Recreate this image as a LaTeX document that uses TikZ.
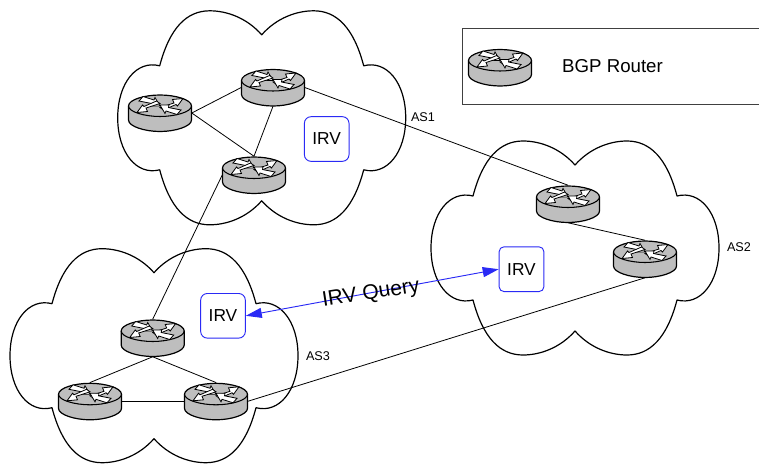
\documentclass[tikz,border=0pt]{standalone}
\usepackage{fontspec}
\setmainfont{Liberation Sans}
\usetikzlibrary{arrows.meta,shapes.geometric}
\definecolor{irvblue}{HTML}{2A2AF5}
\definecolor{routergray}{HTML}{BEBEBE}
\definecolor{legendline}{HTML}{404040}
\tikzset{
  rnode/.style={ellipse,inner sep=0pt,minimum width=47.25pt,minimum height=27.75pt},
  link/.style={black,line width=0.6pt},
  cloudline/.style={black,line width=0.9pt,line join=round},
  irvbox/.style={draw=irvblue,fill=white,line width=0.7pt,rounded corners=#1,minimum width=33.5pt,minimum height=33.5pt,inner sep=0pt,font=\fontsize{13}{15}\selectfont},
  irvbox/.default=5pt,
  aslabel/.style={inner sep=0pt,font=\fontsize{9.5}{11}\selectfont},
  rbody/.style={draw=black,fill=routergray,line width=0.9pt,line join=round},
  rarm/.style={draw=black,fill=white,line width=0.6pt,line join=miter},
  query/.style={{Triangle[length=12pt,width=7.5pt]}-{Triangle[length=12pt,width=7.5pt]},irvblue,line width=0.7pt},
}
\newcommand{\cloudat}[1]{%
  \draw[cloudline,shift={(#1)}] (0,-83)
    .. controls (-15,-100) and (-35,-107) .. (-52,-107)
    .. controls (-75,-107) and (-92,-90) .. (-102,-52)
    .. controls (-125,-58) and (-144,-35) .. (-144,0)
    .. controls (-144,35) and (-125,58) .. (-102,52)
    .. controls (-92,90) and (-75,107) .. (-52,107)
    .. controls (-35,107) and (-15,100) .. (0,83)
    .. controls (15,100) and (35,107) .. (52,107)
    .. controls (75,107) and (92,90) .. (102,52)
    .. controls (125,58) and (144,35) .. (144,0)
    .. controls (144,-35) and (125,-58) .. (102,-52)
    .. controls (92,-90) and (75,-107) .. (52,-107)
    .. controls (35,-107) and (15,-100) .. (0,-83) -- cycle;}
\newcommand{\routerart}[1]{%
  \begin{scope}[shift={(#1)}]
    \path[rbody] (-31.5,-7) -- (-31.5,7)
      .. controls (-31.5,13.5) and (-15,18.5) .. (0,18.5)
      .. controls (15,18.5) and (31.5,13.5) .. (31.5,7) -- (31.5,-7)
      .. controls (31.5,-13.5) and (15,-18) .. (0,-18)
      .. controls (-15,-18) and (-31.5,-13.5) .. cycle;
    \draw[black,line width=0.8pt] (-31.5,-7)
      .. controls (-31.5,-1) and (-15,3.5) .. (0,3.5)
      .. controls (15,3.5) and (31.5,-1) .. (31.5,-7);
    \begin{scope}[shift={(0,-7.5)}]
      \foreach \sx/\sy in {1/1,-1/-1}{
        \begin{scope}[xscale=\sx,yscale=\sy]
          \path[rarm] (0,0.5) -- (-9,0.5) -- (-8.5,-2) -- (-21,-4.5) -- (-17,-9) -- (-6,-5.5) -- (-5,-8) -- cycle;
          \path[rarm] (0,2) -- (14,-2.5) -- (12.5,-6) -- (23,-7) -- (17.5,0.5) -- (16,-1) -- (3.5,4.5) -- cycle;
        \end{scope}
      }
    \end{scope}
  \end{scope}}
\begin{document}
\begin{tikzpicture}[x=0.75pt,y=-0.75pt]
  \useasboundingbox (0,0) rectangle (759,464);
  \cloudat{261.7,117.8}
  \cloudat{575,248}
  \cloudat{154,355.7}
  \draw[legendline,line width=0.75pt] (759,28.5) -- (462,28.5) -- (462,104.5) -- (759,104.5);

  \node[rnode] (lg)  at (500,67.5) {};
  \node[rnode] (r1a) at (273,87.5) {};
  \node[rnode] (r1b) at (160,113) {};
  \node[rnode] (r1c) at (254,175) {};
  \node[rnode] (r2a) at (568,204) {};
  \node[rnode] (r2b) at (645,259) {};
  \node[rnode] (r3a) at (152.7,338) {};
  \node[rnode] (r3b) at (90,401.3) {};
  \node[rnode] (r3c) at (216,401.3) {};

  \draw[link] (r1b.east) -- (r1a.west);
  \draw[link] (r1b.east) -- (r1c.north);
  \draw[link] (r1a.south) -- (r1c.north);
  \draw[link] (r1c.west) -- (r3a.north);
  \draw[link] (r1a.east) -- (r2a.north);
  \draw[link] (r2a.south) -- (r2b.north);
  \draw[link] (r2b.south) -- (r3c.east);
  \draw[link] (r3a.south) -- (r3b.north);
  \draw[link] (r3a.south) -- (r3c.north);
  \draw[link] (r3b.east) -- (r3c.west);

  \foreach \rn in {lg,r1a,r1b,r1c,r2a,r2b,r3a,r3b,r3c}{\routerart{\rn.center}}

  \node[irvbox] (irv1) at (326.7,139) {IRV};
  \node[irvbox=3.5pt] (irv2) at (521.5,269.2) {IRV};
  \node[irvbox] (irv3) at (223,315.8) {IRV};
  \draw[query] (irv3.east) -- (irv2.west);

  \node[inner sep=0pt,font=\fontsize{15.8}{18}\selectfont,rotate=9] (qlabel) at (371,294) {IRV Query};
  \node[inner sep=0pt,font=\fontsize{14}{16}\selectfont] (lgtext) at (612.5,66) {BGP Router};
  \node[aslabel] (as1) at (423,117) {AS1};
  \node[aslabel] (as2) at (739,246.7) {AS2};
  \node[aslabel] (as3) at (318,355.7) {AS3};
\end{tikzpicture}
\end{document}
